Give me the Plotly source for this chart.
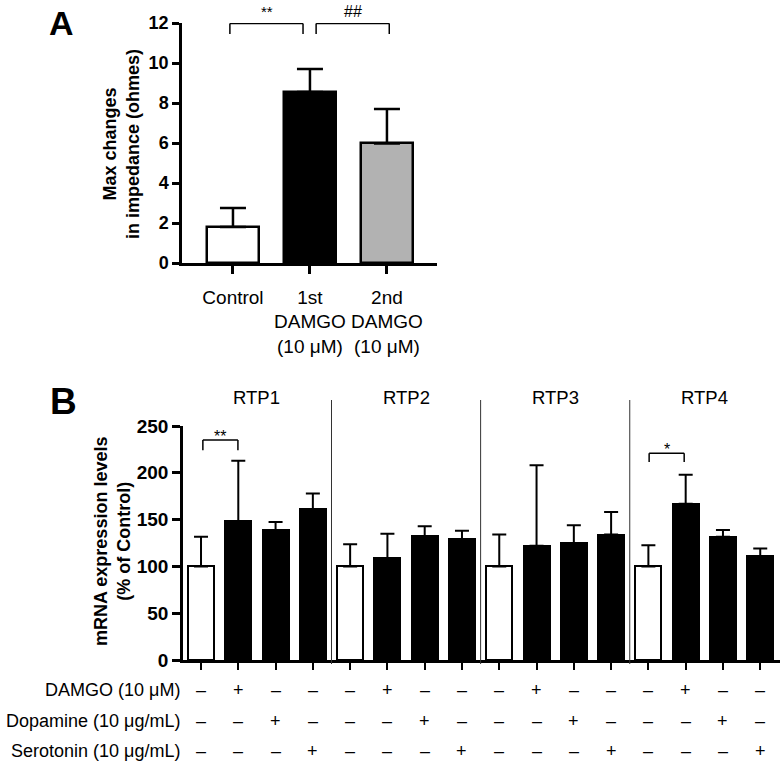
import plotly.graph_objects as go

W, H = 780, 764
FONT = "Arial, Liberation Sans, sans-serif"

# ---------------- Panel A data ----------------
a_labels = ["Control", "1st<br>DAMGO<br>(10 μM)", "2nd<br>DAMGO<br>(10 μM)"]
a_values = [1.8, 8.55, 5.98]
a_errors = [0.95, 1.15, 1.72]
a_colors = ["white", "black", "#b2b2b2"]
a_yticks = [0, 2, 4, 6, 8, 10, 12]

# ---------------- Panel B data ----------------
b_groups = ["RTP1", "RTP2", "RTP3", "RTP4"]
rtp1_values = [100, 148, 139, 161]
rtp1_errors = [31.7, 65, 8.4, 17]
rtp2_values = [100, 108.6, 132.5, 129]
rtp2_errors = [23.6, 26.4, 10.5, 9]
rtp3_values = [100, 122, 125, 134]
rtp3_errors = [34, 86, 19, 24]
rtp4_values = [100, 167, 131.8, 111]
rtp4_errors = [22.5, 31, 7.2, 8]
b_colors_group = ["white", "black", "black", "black"]
b_yticks = [0, 50, 100, 150, 200, 250]

row_labels = ["DAMGO (10 μM)", "Dopamine (10 μg/mL)", "Serotonin (10 μg/mL)"]
damgo_row = ["–", "+", "–", "–"]
dopamine_row = ["–", "–", "+", "–"]
serotonin_row = ["–", "–", "–", "+"]

b_values = rtp1_values + rtp2_values + rtp3_values + rtp4_values
b_errors = rtp1_errors + rtp2_errors + rtp3_errors + rtp4_errors
b_colors = b_colors_group * 4
b_x = list(range(len(b_values)))


def px_x(p):
    return p / W


def px_y(p):
    return 1 - p / H


fig = go.Figure()

fig.add_trace(go.Bar(
    x=list(range(len(a_values))), y=a_values,
    marker=dict(color=a_colors, line=dict(color="black", width=2.5)),
    width=0.67,
    error_y=dict(type="data", symmetric=False, array=a_errors,
                 arrayminus=[0] * len(a_errors), color="black",
                 thickness=2.5, width=13),
    xaxis="x", yaxis="y", showlegend=False, hoverinfo="skip",
))

fig.add_trace(go.Bar(
    x=b_x, y=b_values,
    marker=dict(color=b_colors, line=dict(color="black", width=2)),
    width=0.7,
    error_y=dict(type="data", symmetric=False, array=b_errors,
                 arrayminus=[0] * len(b_errors), color="black",
                 thickness=2, width=7),
    xaxis="x2", yaxis="y2", showlegend=False, hoverinfo="skip",
))

axis_common = dict(showline=True, linecolor="black", showgrid=False,
                   zeroline=False, ticks="outside", tickcolor="black",
                   automargin=False)

fig.update_layout(
    width=W, height=H,
    margin=dict(l=0, r=0, t=0, b=0, autoexpand=False),
    paper_bgcolor="white", plot_bgcolor="white",
    font=dict(family=FONT, color="black", size=19),
    bargap=0,
    xaxis=dict(domain=[px_x(182), px_x(437)], range=[-0.662, 2.65],
               tickvals=[0, 1, 2], ticktext=a_labels, ticklen=8,
               tickwidth=2.5, linewidth=2.5,
               tickfont=dict(family=FONT, size=19),
               ticklabelstandoff=7, anchor="y", **axis_common),
    yaxis=dict(domain=[px_y(263), px_y(23)], range=[0, 12],
               tickvals=a_yticks, ticklen=7, tickwidth=2.5, linewidth=2.5,
               tickfont=dict(family=FONT, size=18, weight="bold"),
               anchor="x", **axis_common),
    xaxis2=dict(domain=[px_x(183), 1], range=[-0.483, 15.53],
                tickvals=b_x, showticklabels=False, ticklen=7,
                tickwidth=2, linewidth=2.5, anchor="y2", **axis_common),
    yaxis2=dict(domain=[px_y(660), px_y(426)], range=[0, 250],
                tickvals=b_yticks, ticklen=8, tickwidth=2.5, linewidth=2.5,
                tickfont=dict(family=FONT, size=19, weight="bold"),
                anchor="x2", **axis_common),
)

shapes = []
annotations = []


def note(text, x, y, xref="paper", yref="paper", size=19, **kw):
    d = dict(text=text, x=x, y=y, xref=xref, yref=yref, showarrow=False,
             xanchor="center", yanchor="middle", font=dict(size=size))
    d.update(kw)
    annotations.append(d)


# Panel letters
note("<b>A</b>", px_x(62), px_y(23), size=34)
note("<b>B</b>", px_x(63), px_y(401), size=37)

# Axis titles
note("<b>Max changes<br>in impedance (ohmes)</b>", px_x(122), px_y(144),
     size=18, textangle=-90)
note("<b>mRNA expression levels<br>(% of Control)</b>", px_x(112), px_y(541),
     size=18, textangle=-90)


def bracket(xref, yref, x0, x1, ytop, ybot):
    line = dict(color="black", width=1.5)
    shapes.append(dict(type="line", xref=xref, yref=yref, x0=x0, x1=x1,
                       y0=ytop, y1=ytop, line=line))
    shapes.append(dict(type="line", xref=xref, yref=yref, x0=x0, x1=x0,
                       y0=ytop, y1=ybot, line=line))
    shapes.append(dict(type="line", xref=xref, yref=yref, x0=x1, x1=x1,
                       y0=ytop, y1=ybot, line=line))


bracket("x", "y", -0.04, 0.91, 11.98, 11.45)
note("**", px_x(266.5), px_y(12), size=15)
bracket("x", "y", 1.08, 2.03, 11.98, 11.45)
note("##", px_x(352.5), px_y(11), size=16)
bracket("x2", "y2", 0.05, 0.99, 235, 224)
note("**", 0.52, 239, xref="x2", yref="y2", size=16)
bracket("x2", "y2", 12.02, 12.96, 221, 211.5)
note("*", 12.49, 225, xref="x2", yref="y2", size=16)

# Group separators and labels
for gi, g in enumerate(b_groups):
    note(g, gi * 4 + 1.5, px_y(397), xref="x2", size=18.5)
    if gi > 0:
        shapes.append(dict(type="line", xref="x2", yref="paper",
                           x0=gi * 4 - 0.5, x1=gi * 4 - 0.5,
                           y0=px_y(664), y1=px_y(400),
                           line=dict(color="#333333", width=1)))

# Treatment table
rows = [damgo_row, dopamine_row, serotonin_row]
row_y = [690, 721, 751]
for label, row, ry in zip(row_labels, rows, row_y):
    note(label, px_x(182), px_y(ry), xanchor="right", size=18)
    for gi in range(len(b_groups)):
        for k, sym in enumerate(row):
            note(sym, gi * 4 + k, px_y(ry), xref="x2", size=18)

fig.update_layout(shapes=shapes, annotations=annotations)
fig.write_html("out.html", config={"displayModeBar": False},
               post_script="document.body.style.margin='0px';")
